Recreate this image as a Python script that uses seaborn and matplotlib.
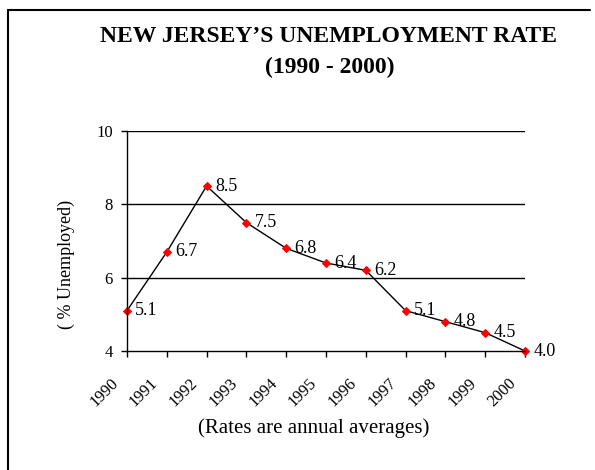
import matplotlib
matplotlib.use("Agg")
import matplotlib.pyplot as plt
import matplotlib.transforms as mtransforms
import seaborn as sns
import pandas as pd
from matplotlib.lines import Line2D

years = [1990, 1991, 1992, 1993, 1994, 1995, 1996, 1997, 1998, 1999, 2000]
rates = [5.1, 6.7, 8.5, 7.5, 6.8, 6.4, 6.2, 5.1, 4.8, 4.5, 4.0]
y_ticks = [4, 6, 8, 10]

df = pd.DataFrame({"year": years, "rate": rates})

sns.set_style("white")
plt.rcParams["font.family"] = ["Liberation Serif", "DejaVu Serif"]
plt.rcParams["text.color"] = "black"
plt.rcParams["axes.labelcolor"] = "black"
plt.rcParams["xtick.color"] = "black"
plt.rcParams["ytick.color"] = "black"

fig = plt.figure(figsize=(5.95, 4.70), dpi=100)
ax = fig.add_axes([127 / 595, 1 - 351 / 470, (525 - 127) / 595, (351 - 131) / 470])

# gridlines behind the line
for v in y_ticks[1:]:
    ax.axhline(v, color="black", lw=1, zorder=0)

sns.lineplot(data=df, x="year", y="rate", ax=ax, color="black", lw=1,
             marker="D", markersize=4, markerfacecolor="red",
             markeredgecolor="red", clip_on=False)

for x, y in zip(years, rates):
    ax.annotate(f"{y:.1f}", (x, y), xytext=(6, 0), textcoords="offset points",
                va="center", ha="left", fontsize=13)

ax.set_xlim(1990, 2000)
ax.set_ylim(4, 10)
ax.set_xticks(years)
ax.set_xticklabels([str(y) for y in years], rotation=45, ha="right",
                   rotation_mode="anchor", fontsize=12)
ax.set_yticks(y_ticks)
ax.set_yticklabels([str(v) for v in y_ticks], fontsize=12)
ax.tick_params(axis="both", direction="out", length=4, width=1, color="black",
               bottom=True, left=True, pad=3)
ax.tick_params(axis="y", pad=6)

# excel-style placement of the rotated year labels
shift = mtransforms.ScaledTranslation(-17 / 100, -14 / 100, fig.dpi_scale_trans)
for lbl in ax.get_xticklabels():
    lbl.set_transform(lbl.get_transform() + shift)

for s in ["top", "right"]:
    ax.spines[s].set_visible(False)
for s in ["left", "bottom"]:
    ax.spines[s].set_color("black")
    ax.spines[s].set_linewidth(1)

ax.set_xlabel("(Rates are annual averages)", fontsize=15)
ax.xaxis.set_label_coords((314 - 127) / 398, -(418 - 351) / 220)
ax.set_ylabel("( % Unemployed)", fontsize=13)
ax.yaxis.set_label_coords(-(127 - 75) / 398, (351 - 264) / 220)

fig.text(328 / 595, 1 - 37 / 470, "NEW JERSEY\u2019S UNEMPLOYMENT RATE",
         ha="center", va="center", fontsize=17, fontweight="bold")
fig.text(330 / 595, 1 - 67 / 470, "(1990 - 2000)",
         ha="center", va="center", fontsize=17, fontweight="bold")

# chart area border (left and top edges)
fig.add_artist(Line2D([8 / 595, 8 / 595], [0, 1 - 10 / 470],
                      transform=fig.transFigure, color="black", lw=1.5))
fig.add_artist(Line2D([8 / 595, 590 / 595], [1 - 10 / 470, 1 - 10 / 470],
                      transform=fig.transFigure, color="black", lw=1.5))

fig.savefig("out.png", dpi=100)
